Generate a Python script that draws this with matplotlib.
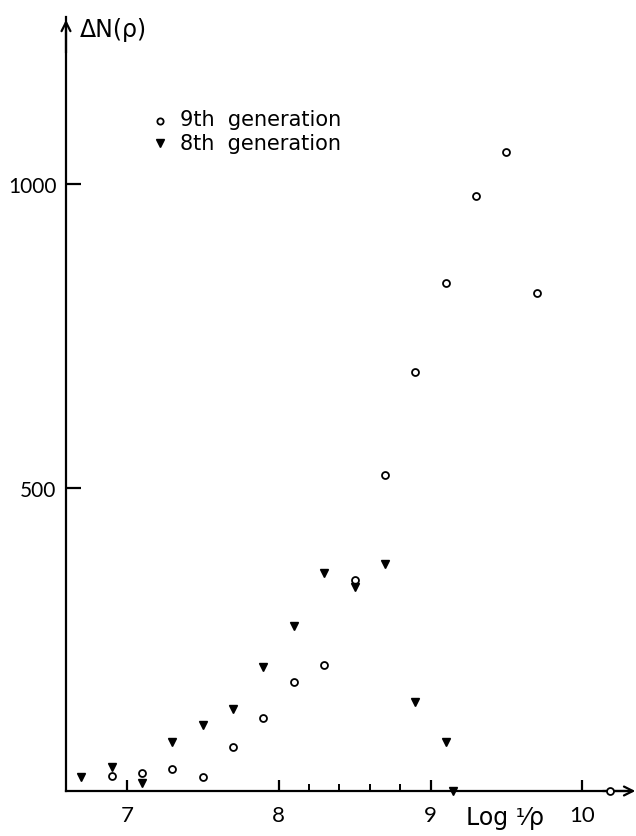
import matplotlib
matplotlib.use("Agg")
import matplotlib.pyplot as plt
from matplotlib.ticker import FixedLocator

# Données
x_9th = [6.9, 7.1, 7.3, 7.5, 7.7, 7.9, 8.1, 8.3, 8.5, 8.7, 8.9, 9.1, 9.3, 9.5, 9.7, 10.18]
y_9th = [24, 30, 36, 23, 72, 120, 179, 208, 348, 521, 690, 838, 981, 1053, 821, 0]

x_8th = [6.7, 6.9, 7.1, 7.3, 7.5, 7.7, 7.9, 8.1, 8.3, 8.5, 8.7, 8.9, 9.1, 9.15]
y_8th = [23, 40, 14, 81, 109, 136, 205, 272, 359, 336, 375, 146, 80, 0]

x_major = [7, 8, 9, 10]
x_minor = [8.2, 8.4, 8.6, 8.8]
y_major = [500, 1000]

plt.rcParams['font.family'] = ['DejaVu Sans']

fig = plt.figure(figsize=(6.36, 8.37), dpi=100)
ax = fig.add_axes([66 / 636, 45 / 837, (628 - 66) / 636, (819 - 45) / 837])

ax.plot(x_9th, y_9th, 'o', mfc='white', mec='black', mew=1.3, ms=5, clip_on=False, zorder=5)
ax.plot(x_8th, y_8th, 'v', color='black', ms=6, clip_on=False, zorder=5)

ax.set_xlim(6.6, 10.3)
ax.set_ylim(0, 1276)

# Axes avec flèches
for s in ['top', 'right']:
    ax.spines[s].set_visible(False)
ax.spines['left'].set_linewidth(1.6)
ax.spines['bottom'].set_linewidth(1.6)
ax.annotate('', xy=(1.018, 0), xytext=(0.95, 0), xycoords='axes fraction',
            arrowprops=dict(arrowstyle='->', lw=1.6, color='black', mutation_scale=16))
ax.annotate('', xy=(0, 1.0), xytext=(0, 0.95), xycoords='axes fraction',
            arrowprops=dict(arrowstyle='->', lw=1.6, color='black', mutation_scale=16))

ax.xaxis.set_major_locator(FixedLocator(x_major))
ax.xaxis.set_minor_locator(FixedLocator(x_minor))
ax.yaxis.set_major_locator(FixedLocator(y_major))
ax.tick_params(axis='x', which='major', direction='in', length=8, width=1.6, labelsize=16, pad=10)
ax.tick_params(axis='x', which='minor', direction='in', length=5, width=1.4)
ax.tick_params(axis='y', which='major', direction='in', length=11, width=1.6, labelsize=15, pad=7)
for lab in ax.get_yticklabels() + ax.get_xticklabels():
    lab.set_family('Lato')

ax.text(0.025, 0.985, 'ΔN(ρ)', transform=ax.transAxes, fontsize=17, ha='left', va='center')
fig.text(505 / 636, 1 - 818 / 837, 'Log ¹⁄ρ', fontsize=17, ha='center', va='center')

# Légende
ax.plot([6.6 + (160 - 66) / 152.2], [(791.5 - 122) / 0.606], 'o', mfc='white', mec='black',
        mew=1.3, ms=4.5, clip_on=False)
ax.plot([6.6 + (160 - 66) / 152.2], [(791.5 - 144) / 0.606], 'v', color='black', ms=5.5, clip_on=False)
ax.text(6.6 + (180 - 66) / 152.2, (791.5 - 120) / 0.606, '9th  generation', fontsize=15, va='center')
ax.text(6.6 + (180 - 66) / 152.2, (791.5 - 144) / 0.606, '8th  generation', fontsize=15, va='center')

fig.savefig('out.png', dpi=100)
